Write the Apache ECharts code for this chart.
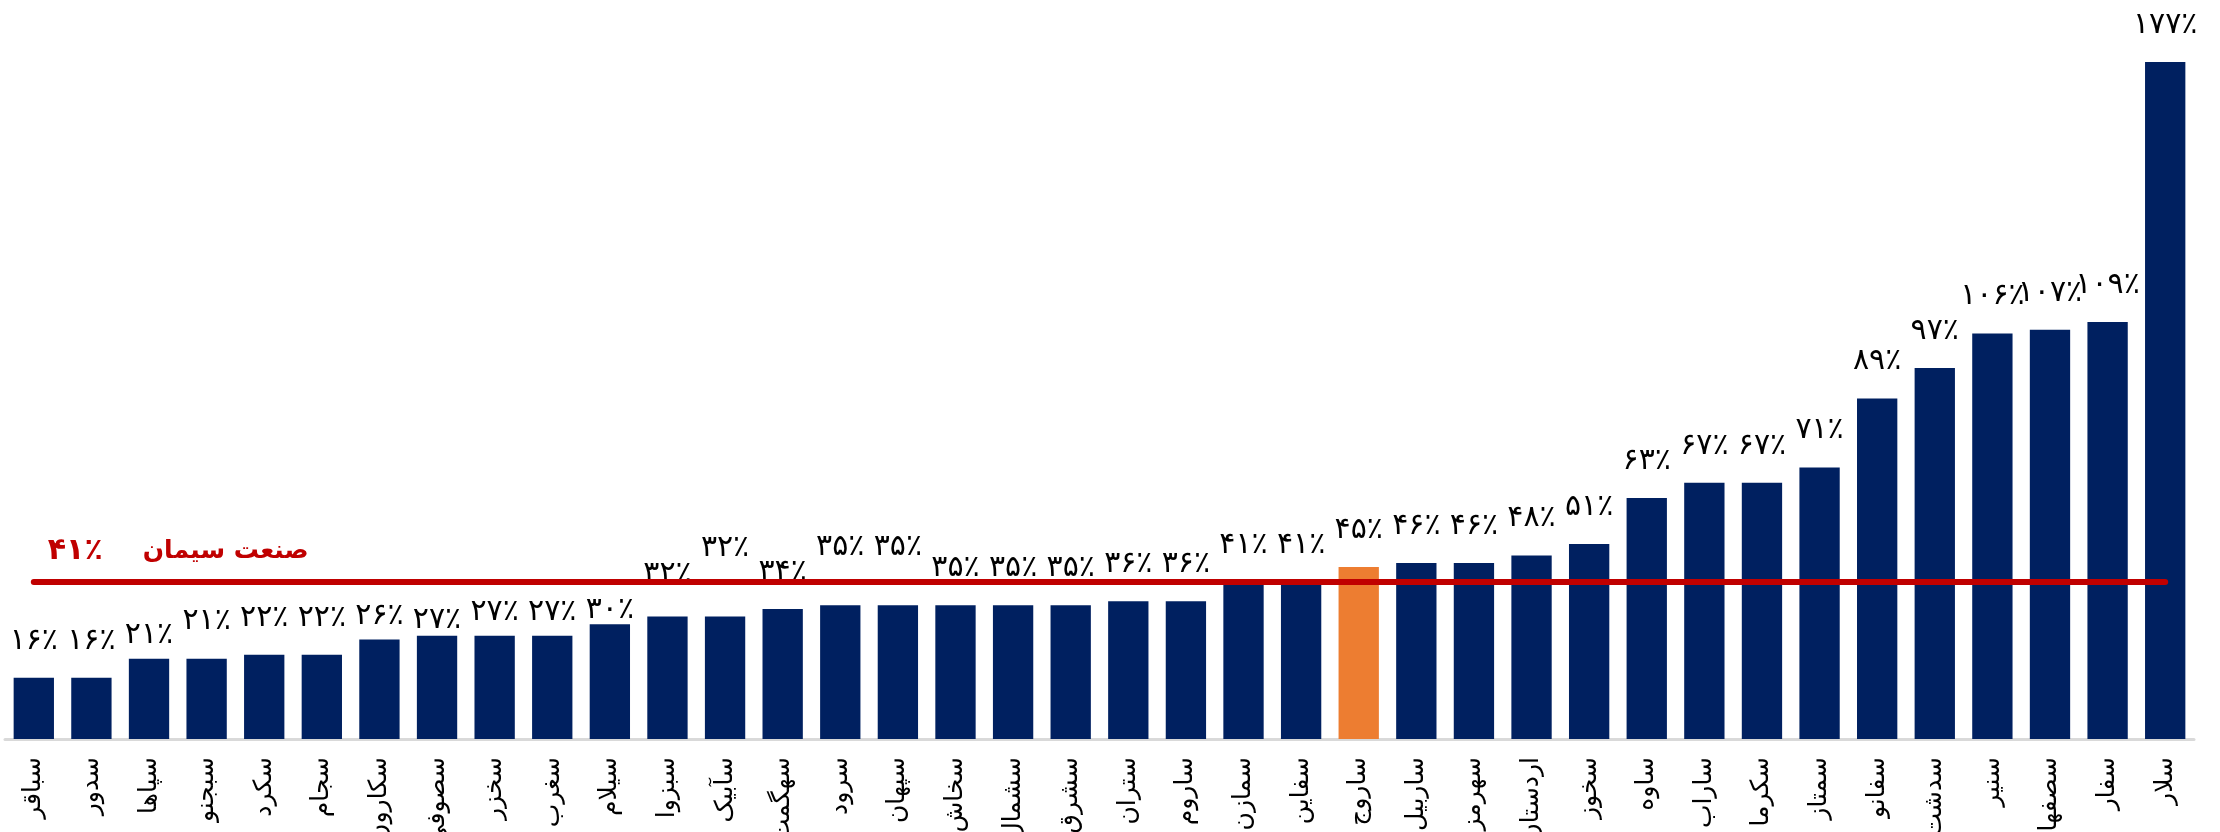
<!DOCTYPE html>
<html>
<head>
<meta charset="utf-8">
<script src="https://cdn.jsdelivr.net/npm/echarts@6/dist/echarts.min.js"></script>
<style>
  html, body { margin: 0; padding: 0; background: #fff; }
  #chart { width: 2220px; height: 832px; }
</style>
</head>
<body>
<div id="chart"></div>
<script>
// companies, sorted by value
const names = [
  'سباقر', 'سدور', 'سپاها', 'سبجنو', 'سکرد', 'سجام', 'سکارون', 'سصوفی', 'سخزر', 'سغرب',
  'سیلام', 'سبزوا', 'سآبیک', 'سهگمت', 'سرود', 'سپهان', 'سخاش', 'سشمال', 'سشرق', 'ستران',
  'ساروم', 'سمازن', 'سفاین', 'ساروج', 'ساربیل', 'سهرمز', 'اردستان', 'سخوز', 'ساوه', 'ساراب',
  'سکرما', 'سمتاز', 'سفانو', 'سدشت', 'سنیر', 'سصفها', 'سفار', 'سلار'
];
const values = [
  16, 16, 21, 21, 22, 22, 26, 27, 27, 27,
  30, 32, 32, 34, 35, 35, 35, 35, 35, 36,
  36, 41, 41, 45, 46, 46, 48, 51, 63, 67,
  67, 71, 89, 97, 106, 107, 109, 177
];
const highlight = 'ساروج';
const industryAvg = 41;
// labels moved by hand in the original (px, + = up)
const labelNudge = [
  0, 0, -14, 0, 0, 0, -14, -21, -13, -13,
  -23, 5, 31, 0, 21, 21, 0, 0, 0, 0,
  0, 0, 0, 0, 0, 0, 0, 0, 0, 0,
  0, 0, 0, 0, 0, 0, 0, 0
];

const FONT = "'DejaVu Sans', 'Noto Sans', sans-serif";
const faDigits = s => String(s).replace(/\d/g, d => '۰۱۲۳۴۵۶۷۸۹'[d]);
const pct = v => faDigits(v) + '٪';

const chart = echarts.init(document.getElementById('chart'));

const barData = values.map((v, i) => {
  const item = { value: v, label: { offset: [0, -labelNudge[i]] } };
  if (names[i] === highlight) item.itemStyle = { color: '#ED7D31' };
  return item;
});

const option = {
  animation: false,
  grid: { left: 5, right: 26, top: 62, bottom: 93, outerBoundsMode: 'none' },
  xAxis: {
    type: 'category',
    data: names,
    axisTick: { show: false },
    axisLine: { lineStyle: { color: '#d9d9d9', width: 3 } },
    axisLabel: {
      interval: 0,
      rotate: 90,
      margin: 18,
      color: '#000',
      fontSize: 25,
      fontFamily: FONT
    }
  },
  yAxis: {
    type: 'value',
    min: 0,
    max: 177,
    show: false,
    splitLine: { show: false }
  },
  series: [{
    type: 'bar',
    data: barData,
    barCategoryGap: '30%',
    itemStyle: { color: '#002060' },
    label: {
      show: true,
      position: 'top',
      distance: 22,
      color: '#000',
      fontSize: 30,
      fontFamily: FONT,
      formatter: p => pct(p.value)
    },
    markLine: {
      silent: true,
      symbol: ['none', 'none'],
      lineStyle: { color: '#C00000', width: 6, type: 'solid', cap: 'round' },
      label: {
        show: true,
        position: 'insideStartTop',
        distance: [14, 16],
        formatter: () => '{a|' + pct(industryAvg) + '}{b|صنعت سیمان}',
        rich: {
          a: { color: '#C00000', fontSize: 30, fontWeight: 'bold', fontFamily: FONT, padding: [0, 40, 0, 0] },
          b: { color: '#C00000', fontSize: 25, fontWeight: 'bold', fontFamily: FONT }
        }
      },
      data: [[
        { coord: [names[0], industryAvg] },
        { coord: [names[names.length - 1], industryAvg] }
      ]]
    }
  }]
};

chart.setOption(option);
</script>
</body>
</html>
